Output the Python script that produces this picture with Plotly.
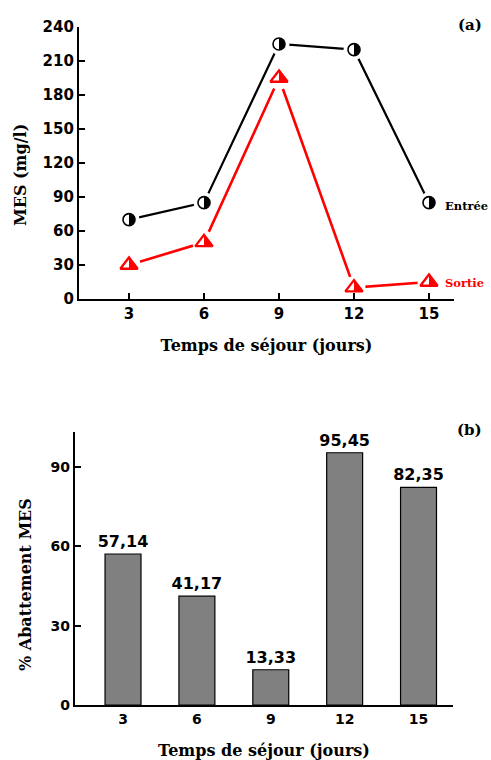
import plotly.graph_objects as go
import math

days = [3, 6, 9, 12, 15]
entree = [70, 85, 225, 220, 85]
sortie = [30, 50, 195, 10, 15]
abattement = [57.14, 41.17, 13.33, 95.45, 82.35]
abattement_labels = ["57,14", "41,17", "13,33", "95,45", "82,35"]
y_ticks_a = [0, 30, 60, 90, 120, 150, 180, 210, 240]
y_ticks_b = [0, 30, 60, 90]

W, H = 491, 760
SERIF = "DejaVu Serif"
SANS = "DejaVu Sans"

fig = go.Figure()

# top panel lines
fig.add_trace(go.Scatter(x=days, y=entree, mode="lines", line=dict(color="black", width=2.2),
                         xaxis="x", yaxis="y", showlegend=False, hoverinfo="skip"))
fig.add_trace(go.Scatter(x=days, y=sortie, mode="lines", line=dict(color="red", width=2.6),
                         xaxis="x", yaxis="y", showlegend=False, hoverinfo="skip"))
# white halos to create gaps around markers
fig.add_trace(go.Scatter(x=days, y=entree, mode="markers", marker=dict(symbol="circle", size=21, color="white"),
                         xaxis="x", yaxis="y", showlegend=False, hoverinfo="skip", cliponaxis=False))
fig.add_trace(go.Scatter(x=days, y=sortie, mode="markers", marker=dict(symbol="circle", size=23, color="white"),
                         xaxis="x", yaxis="y", showlegend=False, hoverinfo="skip", cliponaxis=False))
# markers
fig.add_trace(go.Scatter(x=days, y=entree, mode="markers",
                         marker=dict(symbol="circle", size=12, color="white", line=dict(color="black", width=1.6)),
                         xaxis="x", yaxis="y", showlegend=False, cliponaxis=False))
fig.add_trace(go.Scatter(x=days, y=sortie, mode="markers",
                         marker=dict(symbol="triangle-up", size=15, color="white", line=dict(color="red", width=2.3)),
                         xaxis="x", yaxis="y", showlegend=False, cliponaxis=False))

shapes = []
r = 5.8
k = 0.5523 * r
half_disc = (f"M0,{r} C{k:.2f},{r} {r},{k:.2f} {r},0 "
             f"C{r},{-k:.2f} {k:.2f},{-r} 0,{-r} Z")
for d, v in zip(days, entree):
    shapes.append(dict(type="path", xref="x", yref="y", xsizemode="pixel", ysizemode="pixel",
                       xanchor=d, yanchor=v, path=half_disc,
                       fillcolor="black", line=dict(width=0), layer="above"))
rr = 7.5
rt = rr * 2 / math.sqrt(3)
half_tri = f"M0,{rr} L0,{-rr/2:.2f} L{rt:.2f},{-rr/2:.2f} Z"
for d, v in zip(days, sortie):
    shapes.append(dict(type="path", xref="x", yref="y", xsizemode="pixel", ysizemode="pixel",
                       xanchor=d, yanchor=v, path=half_tri,
                       fillcolor="red", line=dict(width=0), layer="above"))

# bottom panel bars
fig.add_trace(go.Bar(x=days, y=abattement, width=1.46,
                     marker=dict(color="#808080", line=dict(color="black", width=1.2)),
                     text=abattement_labels, textposition="outside", cliponaxis=False, constraintext="none",
                     textfont=dict(family=SANS, size=16, color="black", weight="bold"),
                     xaxis="x2", yaxis="y2", showlegend=False))

axis_common = dict(showgrid=False, zeroline=False, showline=True, linecolor="black", linewidth=2.2,
                   ticks="inside", tickcolor="black", tickwidth=2, ticklen=6, automargin=False)
title_font = dict(family=SERIF, size=16, color="black", weight="bold")
ytitle_font = dict(family=SERIF, size=16, color="black", weight="bold")

fig.update_layout(
    width=W, height=H, margin=dict(l=0, r=0, t=0, b=0, autoexpand=False),
    paper_bgcolor="white", plot_bgcolor="white",
    xaxis=dict(**axis_common, domain=[79 / W, 454 / W], range=[1, 16], tickvals=days,
               tickfont=dict(family=SANS, size=15, color="black", weight="bold"), anchor="y",
               title=dict(text="Temps de séjour (jours)", font=title_font, standoff=18)),
    yaxis=dict(**axis_common, domain=[1 - 299 / H, 1 - 27 / H], range=[0, 240], tickvals=y_ticks_a,
               tickfont=dict(family=SANS, size=15, color="black", weight="bold"), anchor="x"),
    xaxis2=dict(showgrid=False, zeroline=False, showline=True, linecolor="black", linewidth=2.2, ticks="",
                automargin=False,
                domain=[75 / W, 453 / W], range=[1.05, 16.4], tickvals=days,
                tickfont=dict(family=SANS, size=14, color="black", weight="bold"), anchor="y2",
                title=dict(text="Temps de séjour (jours)", font=title_font, standoff=19)),
    yaxis2=dict(**axis_common, domain=[1 - 705 / H, 1 - 432 / H], range=[0, 103.3], tickvals=y_ticks_b,
                tickfont=dict(family=SANS, size=14, color="black", weight="bold"), anchor="x2"),
    shapes=shapes,
    annotations=[
        dict(text="MES (mg/l)", x=20 / W, y=1 - 175 / H, xref="paper", yref="paper", textangle=-90,
             xanchor="center", yanchor="middle", showarrow=False, font=ytitle_font),
        dict(text="% Abattement MES", x=25 / W, y=1 - 585 / H, xref="paper", yref="paper", textangle=-90,
             xanchor="center", yanchor="middle", showarrow=False, font=ytitle_font),
        dict(text="(a)", x=484 / W, y=1 - 25 / H, xref="paper", yref="paper", xanchor="right", yanchor="middle",
             showarrow=False, font=dict(family=SERIF, size=15, color="black", weight="bold")),
        dict(text="(b)", x=484 / W, y=1 - 430 / H, xref="paper", yref="paper", xanchor="right", yanchor="middle",
             showarrow=False, font=dict(family=SERIF, size=15, color="black", weight="bold")),
        dict(text="Entrée", x=days[-1], y=entree[-1], xref="x", yref="y", xanchor="left", yanchor="middle",
             xshift=14, yshift=-3, showarrow=False, font=dict(family=SERIF, size=11.5, color="black", weight="bold")),
        dict(text="Sortie", x=days[-1], y=sortie[-1], xref="x", yref="y", xanchor="left", yanchor="middle",
             xshift=14, yshift=-1, showarrow=False, font=dict(family=SERIF, size=11.5, color="red", weight="bold")),
    ],
)

fig.write_html("out.html", config={"displayModeBar": False},
               post_script="document.body.style.margin='0';document.body.style.overflow='hidden';")
